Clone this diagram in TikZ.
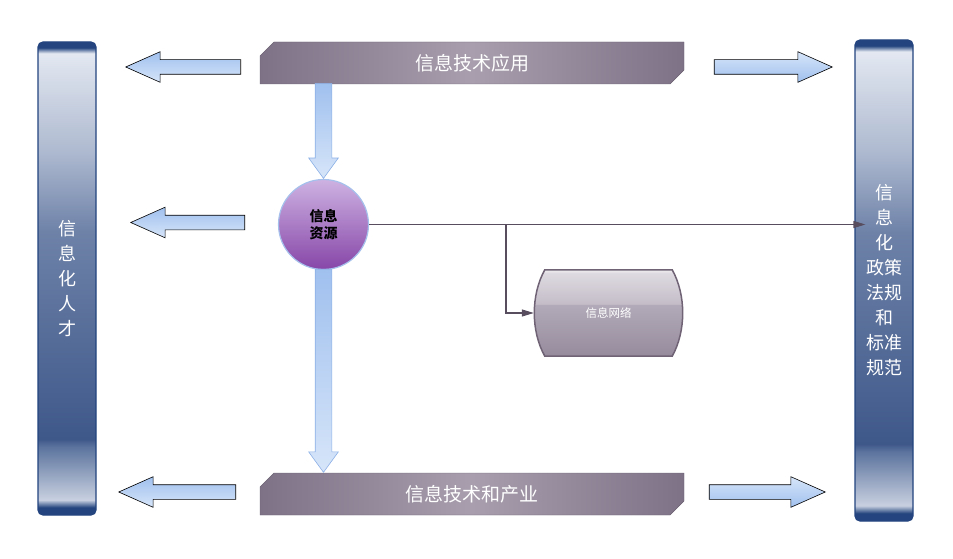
\documentclass[tikz,border=0pt]{standalone}
\usepackage{fontspec}
\newfontfamily\cjk{Noto Sans CJK SC}
\usetikzlibrary{shapes.arrows,shapes.misc,arrows.meta,positioning,calc}

\definecolor{pnavy}{RGB}{35,68,126}
\definecolor{ptop}{RGB}{227,232,241}
\definecolor{pmid}{RGB}{110,130,168}
\definecolor{pdark}{RGB}{62,88,138}
\definecolor{pband}{RGB}{92,116,158}
\definecolor{plow}{RGB}{200,208,224}
\definecolor{bandark}{RGB}{126,114,135}
\definecolor{banlight}{RGB}{168,158,173}
\definecolor{banedge}{RGB}{105,95,112}
\definecolor{arrlight}{RGB}{214,229,249}
\definecolor{arrdark}{RGB}{160,192,238}
\definecolor{arredge}{RGB}{140,176,230}
\definecolor{restop}{RGB}{205,178,226}
\definecolor{resmid}{RGB}{150,95,185}
\definecolor{resbot}{RGB}{135,70,168}
\definecolor{resedge}{RGB}{166,192,236}
\definecolor{netedge}{RGB}{112,99,118}
\definecolor{net0}{RGB}{240,238,241}
\definecolor{net1}{RGB}{222,218,225}
\definecolor{net2}{RGB}{196,189,200}
\definecolor{net3}{RGB}{178,170,184}
\definecolor{net4}{RGB}{150,139,157}
\definecolor{linkc}{RGB}{88,77,94}

\pgfdeclareverticalshading{pillarshade}{100bp}{color(0bp)=(pnavy); color(25bp)=(pnavy);
	color(25.8bp)=(pnavy); color(26.6bp)=(plow); color(32.2bp)=(pband); color(33bp)=(pdark);
	color(55bp)=(pmid); color(63.5bp)=(ptop!55!pmid); color(73.8bp)=(ptop);
	color(74.4bp)=(pnavy); color(100bp)=(pnavy)}
\pgfdeclareverticalshading{netshade}{100bp}{color(0bp)=(net4); color(25bp)=(net4);
	color(54.8bp)=(net3); color(55.2bp)=(net2); color(73bp)=(net1); color(75bp)=(net0);
	color(100bp)=(net0)}

\tikzset{
	pillar/.style = {rectangle, rounded corners=5pt, draw=pnavy, line width=1.2pt,
		shade, shading=pillarshade, minimum width=58pt, text=white, align=center,
		font=\cjk\fontsize{18}{25}\selectfont},
	banner/.style = {chamfered rectangle, chamfered rectangle corners={north west,south east},
		chamfered rectangle xsep=7pt, chamfered rectangle ysep=7pt, draw=banedge,
		minimum width=424pt, minimum height=42pt, left color=bandark, right color=bandark,
		middle color=banlight, text=white, font=\cjk\fontsize{19}{19}\selectfont},
	ball/.style = {circle, minimum size=90pt, inner sep=0pt, draw=resedge, line width=1.2pt,
		top color=restop, middle color=resmid, bottom color=resbot, align=center,
		font=\cjk\bfseries\fontsize{14}{17}\selectfont},
	netbox/.style = {rectangle, minimum width=149pt, minimum height=86pt, inner sep=0pt,
		text=white, font=\cjk\fontsize{11.5}{12}\selectfont},
	glassarrow/.style = {single arrow, anchor=tip, single arrow head extend=8pt, single arrow tip angle=48,
		single arrow head indent=0pt, inner xsep=0pt, inner ysep=7pt, draw=black, line width=0.6pt},
	toright/.style = {glassarrow, top color=arrlight, bottom color=arrdark},
	toleft/.style = {glassarrow, rotate=180, top color=arrdark, bottom color=arrlight},
	todown/.style = {glassarrow, rotate=-90, draw=arredge, inner ysep=8pt,
		single arrow head extend=6.5pt, single arrow tip angle=72,
		top color=arrdark, bottom color=arrlight},
	link/.style = {draw=linkc, line width=1.2pt, -{Triangle[length=12pt,width=7pt]}}
}

\begin{document}
\begin{tikzpicture}[x=1pt,y=-1pt]
	\useasboundingbox (0,0) rectangle (953,559);
	
	\node [pillar, minimum height=473pt] (talent) at (67,278.5) {信\\息\\化\\人\\才};
	\node [pillar, minimum height=481pt] (policy) at (884,280.5) {信\\息\\化\\政策\\法规\\和\\标准\\规范};
	
	\node [banner] (app) at (472,63) {信息技术应用};
	\node [banner] (ind) at (472,494) {信息技术和产业};
	\node [ball] (res) at (323.5,224.5) {信息\\资源};
	
	%network box
	\node [netbox] (net) at (608.5,313) {};
	\path [shade, shading=netshade, draw=netedge, line width=1.5pt]
		([xshift=11pt]net.north west) -- ([xshift=-11pt]net.north east)
		.. controls +(14,25) and +(14,-25) .. ([xshift=-11pt]net.south east)
		-- ([xshift=11pt]net.south west)
		.. controls +(-14,-25) and +(-14,25) .. cycle;
	\node [netbox] at (net) {信息网络};
	
	%block arrows, placed by their tips
	\node [toleft, minimum height=115pt] (la1) at (125,67) {};
	\node [toleft, minimum height=114pt] (la2) at (130,222.5) {};
	\node [toleft, minimum height=117pt] (la3) at (118,492) {};
	\node [toright, minimum height=118pt] (ra1) at (833,67) {};
	\node [toright, minimum height=116pt] (ra2) at (826,492) {};
	\node [todown, minimum height=95pt] (da1) at (res.north) {};
	\node [todown, minimum height=203pt] (da2) at (ind.north -| res) {};
	
	\coordinate (split) at (506,224.5);
	\draw [link] (res) -- ($(res -| policy.west)+(11,0)$);
	\draw [link] (split) |- (net.west);
	
\end{tikzpicture}
\end{document}
